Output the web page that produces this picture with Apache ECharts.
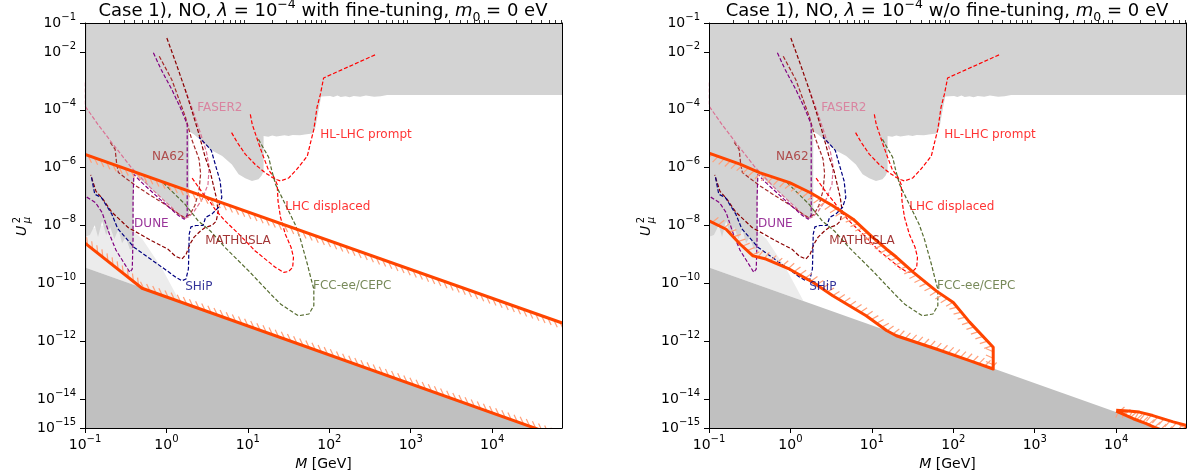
<!DOCTYPE html>
<html>
<head>
<meta charset="utf-8">
<script src="https://cdn.jsdelivr.net/npm/echarts@6/dist/echarts.min.js"></script>
<style>
  html, body { margin: 0; padding: 0; background: #fff; }
  #chart { width: 1187px; height: 476px; }
</style>
</head>
<body>
<div id="chart"></div>
<script>
// Axis ranges and tick positions
const massRange = [0.1, 7.2e4];
const mixingRange = [1e-15, 1e-1];
const massTicks = [0.1, 1, 10, 100, 1000, 10000];
const minorMantissas = [2, 3, 4, 5, 6, 7, 8, 9];
const mixingTicks = [1e-15, 1e-14, 1e-12, 1e-10, 1e-8, 1e-6, 1e-4, 1e-2, 1e-1];

// All curves below are given as [log10(M / GeV), log10(U_mu^2)]

// Excluded by existing searches
const excludedTop = [[-1.01,-0.99],[-1.01,-8.40],[-0.94,-8.33],[-0.88,-7.99],[-0.84,-8.40],[-0.79,-7.85],[-0.74,-8.33],[-0.69,-8.06],[-0.64,-8.47],[-0.59,-8.13],[-0.545,-8.61],[-0.50,-8.40],[-0.45,-8.82],[-0.41,-8.82],[-0.40,-6.20],[0.205,-7.72],[0.28,-7.72],[0.28,-4.75],[0.34,-4.85],[0.45,-5.13],[0.537,-5.37],[0.685,-5.60],[0.804,-5.89],[0.886,-6.23],[0.968,-6.37],[1.05,-6.46],[1.13,-6.40],[1.17,-6.27],[1.193,-6.12],[1.193,-4.91],[1.25,-4.93],[1.30,-4.89],[1.35,-4.92],[1.45,-4.88],[1.50,-4.91],[1.55,-4.87],[1.64,-4.88],[1.70,-4.85],[1.79,-4.82],[1.83,-4.61],[1.87,-3.99],[1.90,-3.54],[2.01,-3.52],[2.05,-3.56],[2.10,-3.51],[2.14,-3.56],[2.20,-3.53],[2.25,-3.57],[2.30,-3.52],[2.38,-3.55],[2.45,-3.51],[2.55,-3.55],[2.63,-3.53],[2.71,-3.49],[4.9,-3.49],[4.9,-0.99]];
// BBN bound
const bbnRegion = [[-1.01,-8.20],[-0.80,-8.00],[-0.45,-8.10],[-0.30,-8.45],[-0.05,-9.50],[0.16,-10.61],[-1.01,-9.44]];
// Seesaw floor
const seesawFloor = [[-1.01,-9.44],[4.9,-15.35],[4.9,-15.5],[-1.01,-15.5]];
// Narrow excluded sliver at the lowest masses (fine-tuned case)
const lowMassEdge = [[-1.01,-0.99],[-0.985,-0.99],[-0.985,-15.5],[-1.01,-15.5]];

// Projected sensitivities
const faser2 = [[-0.995,-3.06],[-0.995,-3.89],[-0.84,-4.51],[-0.67,-5.14],[-0.43,-6.00],[-0.20,-6.68],[-0.02,-7.16],[0.14,-7.58],[0.22,-7.75],[0.27,-7.71],[0.34,-7.51],[0.44,-7.09],[0.51,-6.58],[0.525,-5.99],[0.49,-5.44],[0.415,-4.79],[0.32,-3.99],[0.23,-3.30],[0.20,-3.30]];
const na62 = [[-0.69,-5.13],[-0.63,-5.37],[-0.61,-5.89],[-0.59,-6.17],[-0.39,-6.60],[-0.20,-6.95],[0.00,-7.30],[0.15,-7.60],[0.22,-7.72],[0.29,-7.62],[0.35,-7.30],[0.40,-6.80],[0.42,-6.20],[0.40,-5.70],[0.31,-5.02],[0.23,-4.22],[0.066,-2.96],[-0.10,-2.09]];
const dune = [[-0.16,-2.03],[-0.065,-2.61],[0.066,-3.30],[0.17,-3.92],[0.23,-4.33],[0.255,-4.51],[0.255,-5.71],[0.255,-7.09],[0.255,-7.64],[0.22,-7.78],[0.14,-7.64],[-0.08,-7.09],[-0.32,-6.47],[-0.40,-6.23],[-0.41,-7.09],[-0.41,-8.47],[-0.42,-9.51],[-0.45,-9.62],[-0.52,-9.30],[-0.62,-8.85],[-0.70,-8.30],[-0.79,-7.55],[-0.87,-7.21],[-0.995,-6.99]];
const mathusla = [[0.005,-1.52],[0.11,-2.33],[0.23,-3.30],[0.316,-4.06],[0.394,-4.79],[0.476,-5.64],[0.537,-6.13],[0.574,-6.58],[0.611,-7.02],[0.636,-7.51],[0.611,-7.85],[0.562,-7.99],[0.476,-8.07],[0.415,-8.20],[0.34,-8.40],[0.29,-8.64],[0.242,-8.99],[0.19,-9.16],[0.11,-9.06],[0.02,-8.82],[-0.18,-8.53],[-0.47,-8.07],[-0.67,-7.54],[-0.78,-7.09],[-0.865,-6.82],[-0.93,-6.25]];
const ship = [[-0.92,-6.34],[-0.88,-6.92],[-0.80,-7.03],[-0.67,-7.61],[-0.60,-8.10],[-0.40,-8.75],[-0.20,-9.15],[0.00,-9.55],[0.12,-9.80],[0.19,-9.91],[0.24,-9.85],[0.27,-9.50],[0.28,-8.30],[0.30,-8.05],[0.36,-8.00],[0.45,-8.00],[0.48,-7.72],[0.56,-7.60],[0.64,-7.37],[0.68,-7.03],[0.66,-6.47],[0.60,-5.89],[0.55,-5.40],[0.47,-5.15],[0.40,-4.95]];
const hlLhcPrompt = [[0.80,-4.79],[0.87,-5.13],[0.97,-5.54],[1.09,-5.89],[1.21,-6.17],[1.30,-6.34],[1.36,-6.42],[1.40,-6.46],[1.50,-6.36],[1.60,-6.06],[1.73,-5.60],[1.77,-5.13],[1.81,-4.68],[1.85,-3.90],[1.89,-3.47],[1.93,-2.90],[2.57,-2.09]];
const lhcDisplaced = [[1.03,-4.16],[1.054,-4.51],[1.13,-5.14],[1.18,-5.54],[1.25,-6.06],[1.32,-6.33],[1.36,-6.58],[1.37,-7.15],[1.40,-7.71],[1.46,-8.30],[1.53,-8.75],[1.56,-9.10],[1.55,-9.45],[1.50,-9.59],[1.44,-9.62],[1.34,-9.45],[1.09,-8.88],[0.89,-8.30],[0.72,-7.84],[0.60,-7.45],[0.54,-7.20],[0.45,-6.90],[0.31,-6.34]];
const fccEeCepc = [[-0.04,-6.52],[0.23,-7.27],[0.39,-7.84],[0.54,-8.19],[0.72,-8.76],[1.01,-9.57],[1.30,-10.43],[1.40,-10.71],[1.52,-10.94],[1.62,-11.12],[1.75,-11.06],[1.81,-10.77],[1.81,-10.20],[1.77,-9.78],[1.73,-9.33],[1.645,-8.47],[1.58,-7.96],[1.46,-7.27],[1.34,-6.58],[1.29,-6.06],[1.255,-5.64],[1.20,-5.37],[1.13,-5.02]];

// Curve names and where they are written
const curveLabels = [
  ['FASER2', 0.378, -3.95], ['NA62', -0.176, -5.64], ['DUNE', -0.397, -7.96],
  ['MATHUSLA', 0.476, -8.54], ['SHiP', 0.23, -10.13], ['HL-LHC prompt', 1.89, -4.85],
  ['LHC displaced', 1.46, -7.37], ['FCC-ee/CEPC', 1.80, -10.09]
];

// Allowed band, with fine-tuning
const fineTunedUpper = [[-1.0,-5.54],[4.86,-11.37]];
const fineTunedLower = [[-1.0,-8.61],[-0.30,-10.17],[4.86,-15.34]];
// Allowed region, without fine-tuning
const naturalRegion = [[-1.0,-5.50],[-0.62,-5.88],[-0.38,-6.17],[-0.01,-6.52],[0.24,-6.86],[0.52,-7.32],[0.77,-7.78],[1.01,-8.41],[1.18,-8.82],[1.30,-9.09],[1.51,-9.62],[1.79,-10.26],[2.0,-10.66],[2.20,-11.34],[2.49,-12.21],[2.49,-12.96],[2.20,-12.67],[1.79,-12.27],[1.30,-11.81],[1.18,-11.63],[0.93,-11.12],[0.52,-10.43],[0.28,-9.97],[-0.01,-9.51],[-0.30,-9.16],[-0.46,-9.05],[-0.62,-8.64],[-0.79,-8.13],[-1.0,-7.84]];
const naturalTail = [[4.0,-14.39],[4.15,-14.41],[4.285,-14.45],[4.45,-14.57],[4.70,-14.79],[4.86,-14.91],[4.86,-15.4],[4.49,-15.0],[4.37,-14.85],[4.21,-14.68],[4.0,-14.42]];

const FONT = 'DejaVu Sans';
const ORANGE = '#ff4500';
const HATCH = '#ffa07a';

const curveStyles = [
  { pts: faser2, color: '#db7093' },
  { pts: na62, color: '#a52a2a' },
  { pts: dune, color: '#800080' },
  { pts: mathusla, color: '#8b0000' },
  { pts: ship, color: '#000080' },
  { pts: hlLhcPrompt, color: '#ff0000' },
  { pts: lhcDisplaced, color: '#ff0000' },
  { pts: fccEeCepc, color: '#556b2f' }
];
const labelColors = {
  'FASER2': '#db7093', 'NA62': '#a52a2a', 'DUNE': '#800080', 'MATHUSLA': '#8b0000',
  'SHiP': '#000080', 'HL-LHC prompt': '#ff0000', 'LHC displaced': '#ff0000', 'FCC-ee/CEPC': '#556b2f'
};
const sharedFills = [
  { pts: bbnRegion, color: '#ececec' },
  { pts: seesawFloor, color: '#c0c0c0' },
  { pts: excludedTop, color: '#d3d3d3' }
];

const toValues = pts => pts.map(([a, b]) => [Math.pow(10, a), Math.pow(10, b)]);
const minorMassTicks = massTicks.flatMap(t => minorMantissas.map(m => m * t)).filter(v => v <= massRange[1]);

function powLabel(v) {
  const e = Math.round(Math.log10(v));
  return '{b|10}{e|' + (e < 0 ? '\u2212' + (-e) : String(e)) + '}';
}
const tickRich = {
  b: { fontSize: 14, lineHeight: 22, fontFamily: FONT, color: '#000' },
  e: { fontSize: 10, lineHeight: 11, verticalAlign: 'top', fontFamily: FONT, color: '#000' }
};

// Thick line with short slanted ticks on one side
function tickedPath(P, angleDeg, spacing, len) {
  const out = [];
  const ca = Math.cos(angleDeg * Math.PI / 180), sa = Math.sin(angleDeg * Math.PI / 180);
  let carry = spacing / 2;
  for (let i = 0; i < P.length - 1; i++) {
    const [x0, y0] = P[i], [x1, y1] = P[i + 1];
    const L = Math.hypot(x1 - x0, y1 - y0);
    if (L === 0) continue;
    const dx = (x1 - x0) / L, dy = (y1 - y0) / L, nx = -dy, ny = dx;
    const tx = len * (ca * dx + sa * nx), ty = len * (ca * dy + sa * ny);
    let s = carry;
    while (s <= L) {
      const px = x0 + dx * s, py = y0 + dy * s;
      out.push({ type: 'line', shape: { x1: px, y1: py, x2: px + tx, y2: py + ty },
        style: { stroke: HATCH, lineWidth: 1.2 } });
      s += spacing;
    }
    carry = s - L;
  }
  out.push({ type: 'polyline', shape: { points: P },
    style: { stroke: ORANGE, lineWidth: 3, fill: null, lineJoin: 'round' } });
  return out;
}

function clipRect(params) {
  const c = params.coordSys;
  return { type: 'rect', shape: { x: c.x, y: c.y, width: c.width, height: c.height } };
}

function panelSeries(gi, fills, orangePaths) {
  const xi = gi * 3, yi = gi * 2;
  const series = [];
  fills.forEach(f => {
    const vals = toValues(f.pts);
    series.push({
      type: 'custom', xAxisIndex: xi, yAxisIndex: yi, data: vals, clip: true, silent: true, z: 1,
      renderItem: (params, api) => params.dataIndex !== 0 ? null : {
        type: 'polygon', clipPath: clipRect(params),
        shape: { points: vals.map(v => api.coord(v)) }, style: { fill: f.color }
      }
    });
  });
  curveStyles.forEach(c => {
    series.push({
      type: 'line', xAxisIndex: xi, yAxisIndex: yi, data: toValues(c.pts),
      symbol: 'none', showSymbol: false, clip: true, silent: true, z: 3,
      lineStyle: { color: c.color, width: 1.2, type: [4, 2] }
    });
  });
  orangePaths.forEach(o => {
    const vals = toValues(o.pts);
    series.push({
      type: 'custom', xAxisIndex: xi, yAxisIndex: yi, data: vals, clip: true, silent: true, z: 4,
      renderItem: (params, api) => params.dataIndex !== 0 ? null : {
        type: 'group', clipPath: clipRect(params),
        children: tickedPath(vals.map(v => api.coord(v)), o.angle, 6.5, 8)
      }
    });
  });
  series.push({
    type: 'scatter', xAxisIndex: xi, yAxisIndex: yi, symbolSize: 0, silent: true, z: 5,
    data: curveLabels.map(([name, a, b]) => ({
      name, value: [Math.pow(10, a), Math.pow(10, b)], label: { color: labelColors[name] }
    })),
    label: { show: true, position: 'right', distance: 0, formatter: '{b}', fontSize: 12, fontFamily: FONT }
  });
  return series;
}

const grids = [
  { left: 85, top: 23, width: 477, height: 406 },
  { left: 709, top: 23, width: 477, height: 406 }
];

const xAxes = [], yAxes = [];
grids.forEach((g, gi) => {
  xAxes.push({
    type: 'log', gridIndex: gi, min: massRange[0], max: massRange[1], z: 10,
    name: '{i|M} [GeV]', nameLocation: 'middle', nameGap: 29,
    nameTextStyle: { fontSize: 14, fontFamily: FONT, color: '#000',
      rich: { i: { fontSize: 14, fontStyle: 'italic', fontFamily: FONT, color: '#000' } } },
    axisLine: { show: true, lineStyle: { color: '#000', width: 1 } },
    axisTick: { show: true, length: 5, customValues: massTicks, lineStyle: { color: '#000', width: 1 } },
    axisLabel: { customValues: massTicks, formatter: powLabel, rich: tickRich, margin: 6 },
    splitLine: { show: false }
  });
  xAxes.push({
    type: 'log', gridIndex: gi, min: massRange[0], max: massRange[1], z: 10,
    axisLine: { show: false },
    axisTick: { show: true, length: 3, customValues: minorMassTicks, lineStyle: { color: '#000', width: 0.8 } },
    axisLabel: { show: false }, splitLine: { show: false }
  });
  xAxes.push({
    type: 'log', gridIndex: gi, position: 'top', min: massRange[0], max: massRange[1], z: 10,
    axisLine: { show: true, lineStyle: { color: '#000', width: 1 } },
    axisTick: { show: false }, axisLabel: { show: false }, splitLine: { show: false }
  });
  yAxes.push({
    type: 'log', gridIndex: gi, min: mixingRange[0], max: mixingRange[1], z: 10,
    axisLine: { show: true, lineStyle: { color: '#000', width: 1 } },
    axisTick: { show: true, length: 5, customValues: mixingTicks, lineStyle: { color: '#000', width: 1 } },
    axisLabel: { customValues: mixingTicks, formatter: powLabel, rich: tickRich, margin: 9 },
    splitLine: { show: false }
  });
  yAxes.push({
    type: 'log', gridIndex: gi, position: 'right', min: mixingRange[0], max: mixingRange[1], z: 10,
    axisLine: { show: true, lineStyle: { color: '#000', width: 1 } },
    axisTick: { show: false }, axisLabel: { show: false }, splitLine: { show: false }
  });
});

const titleRich = {
  i: { fontSize: 18, fontStyle: 'italic', fontFamily: FONT, color: '#000', lineHeight: 26 },
  sup: { fontSize: 12.5, verticalAlign: 'top', lineHeight: 12, fontFamily: FONT, color: '#000' },
  sub: { fontSize: 12.5, verticalAlign: 'bottom', lineHeight: 12, fontFamily: FONT, color: '#000' }
};
function titleText(x, mode) {
  return {
    type: 'text', x: x, y: 11,
    style: {
      text: 'Case 1), NO, {i|\u03bb} = 10{sup|\u22124} ' + mode + ', {i|m}{sub|0} = 0 eV',
      rich: titleRich, font: '18px "DejaVu Sans"', fill: '#000', lineHeight: 26,
      align: 'center', verticalAlign: 'middle'
    }
  };
}
function yName(x) {
  return {
    type: 'group', x: x, y: 226, rotation: Math.PI / 2,
    children: [
      { type: 'text', x: -5, y: 0, style: { text: 'U', font: 'italic 14px "DejaVu Sans"', fill: '#000', align: 'center', verticalAlign: 'middle' } },
      { type: 'text', x: 6, y: -5, style: { text: '2', font: '10px "DejaVu Sans"', fill: '#000', align: 'center', verticalAlign: 'middle' } },
      { type: 'text', x: 6, y: 5, style: { text: '\u03bc', font: 'italic 10px "DejaVu Sans"', fill: '#000', align: 'center', verticalAlign: 'middle' } }
    ]
  };
}

const chart = echarts.init(document.getElementById('chart'), null, { renderer: 'canvas' });
chart.setOption({
  animation: false,
  backgroundColor: '#fff',
  grid: grids,
  xAxis: xAxes,
  yAxis: yAxes,
  graphic: [titleText(323, 'with fine-tuning'), titleText(947, 'w/o fine-tuning'), yName(22), yName(646)],
  series: [
    ...panelSeries(0, [...sharedFills, { pts: lowMassEdge, color: '#8c8c8c' }],
      [{ pts: fineTunedUpper, angle: 45 }, { pts: fineTunedLower, angle: -135 }]),
    ...panelSeries(1, sharedFills,
      [{ pts: naturalRegion, angle: 115 }, { pts: naturalTail, angle: 115 }])
  ]
});
</script>
</body>
</html>
